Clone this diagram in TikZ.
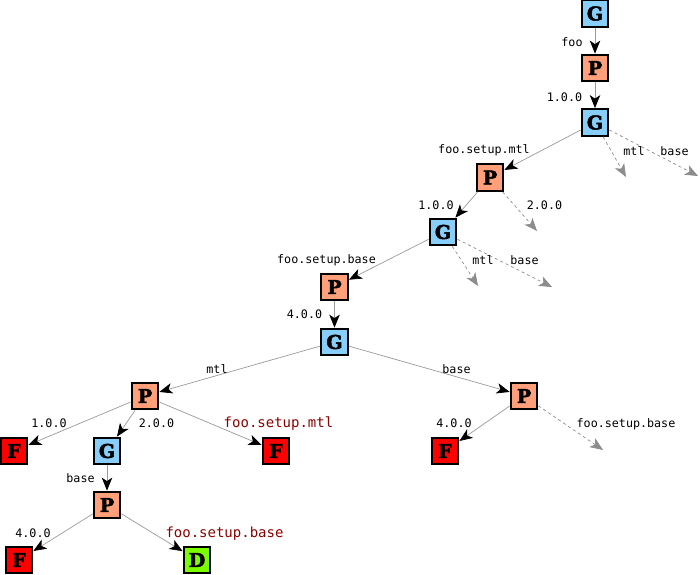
\documentclass[tikz,border=0pt]{standalone}
\usepackage{fontspec}
\usetikzlibrary{arrows.meta}
\newfontfamily\nodefam{DejaVu Serif}[BoldFeatures={FakeBold=2.5}]
\newfontfamily\monofam{DejaVu Sans Mono}
\definecolor{gblue}{HTML}{87CEFA}
\definecolor{psalmon}{HTML}{FFA07A}
\definecolor{fred}{HTML}{FF0000}
\definecolor{dgreen}{HTML}{7CFC00}
\definecolor{darkred}{HTML}{8B0000}
\definecolor{edgegray}{HTML}{999999}
\definecolor{dashgray}{HTML}{8C8C8C}
\tikzset{
  nd/.style={draw=black, line width=2.3pt, minimum size=26.5pt, inner sep=0pt,
    font=\nodefam\bfseries\fontsize{19}{19}\selectfont},
  gn/.style={nd, fill=gblue},
  pn/.style={nd, fill=psalmon},
  fn/.style={nd, fill=fred},
  dn/.style={nd, fill=dgreen},
  edge/.style={draw=edgegray, line width=0.7pt,
    -{Stealth[length=13pt,width=10.5pt,inset=3.5pt,color=black]}},
  dedge/.style={draw=dashgray, dashed, line width=0.7pt,
    -{Stealth[length=13pt,width=10.5pt,inset=3.5pt,color=dashgray]}},
  lbl/.style={font=\monofam\fontsize{11.7}{12}\selectfont, inner sep=0pt, anchor=base},
  rlbl/.style={font=\monofam\fontsize{14}{14}\selectfont, text=darkred, inner sep=0pt, anchor=base}
}
\begin{document}
\begin{tikzpicture}[x=1pt,y=-1pt]
\useasboundingbox (0,0) rectangle (700,574);
% nodes
\node[gn] (G1) at (595,13.5) {G};
\node[pn] (P1) at (595,68) {P};
\node[gn] (G2) at (595,122.5) {G};
\node[pn] (P2) at (490,177.5) {P};
\node[gn] (G3) at (443,232) {G};
\node[pn] (P3) at (334.5,287) {P};
\node[gn] (G4) at (334.5,342) {G};
\node[pn] (P4) at (145,396) {P};
\node[pn] (P5) at (524,396) {P};
\node[fn] (F1) at (14,451) {F};
\node[gn] (G5) at (107,451) {G};
\node[fn] (F2) at (276,451) {F};
\node[fn] (F3) at (445,451) {F};
\node[pn] (P6) at (107,505) {P};
\node[fn] (F4) at (19,560) {F};
\node[dn] (D) at (197,560) {D};
% free ends
\coordinate (e1) at (626,177);
\coordinate (e2) at (698,176);
\coordinate (e3) at (537,231);
\coordinate (e4) at (478,286);
\coordinate (e5) at (552,287);
\coordinate (e6) at (603,450);
% solid edges
\draw[edge] (G1) -- (P1);
\draw[edge] (P1) -- (G2);
\draw[edge] (G2) -- (P2);
\draw[edge] (P2) -- (G3);
\draw[edge] (G3) -- (P3);
\draw[edge] (P3) -- (G4);
\draw[edge] (G4) -- (P4);
\draw[edge] (G4) -- (P5);
\draw[edge] (P4) -- (F1);
\draw[edge] (P4) -- (G5);
\draw[edge] (P4) -- (F2);
\draw[edge] (G5) -- (P6);
\draw[edge] (P6) -- (F4);
\draw[edge] (P6) -- (D);
\draw[edge] (P5) -- (F3);
% dashed edges
\draw[dedge] (G2) -- (e1);
\draw[dedge] (G2) -- (e2);
\draw[dedge] (P2) -- (e3);
\draw[dedge] (G3) -- (e4);
\draw[dedge] (G3) -- (e5);
\draw[dedge] (P5) -- (e6);
% labels
\node[lbl] (l1) at (572,46) {foo};
\node[lbl] (l2) at (564.5,101) {1.0.0};
\node[lbl] (l3) at (484,153) {foo.setup.mtl};
\node[lbl] (l4) at (634,155) {mtl};
\node[lbl] (l5) at (674.5,155) {base};
\node[lbl] (l6) at (436,209) {1.0.0};
\node[lbl] (l7) at (544.5,209) {2.0.0};
\node[lbl] (l8) at (326.5,263) {foo.setup.base};
\node[lbl] (l9) at (483,264) {mtl};
\node[lbl] (l10) at (524.5,264) {base};
\node[lbl] (l11) at (304.5,318) {4.0.0};
\node[lbl] (l12) at (217,373) {mtl};
\node[lbl] (l13) at (456.5,373) {base};
\node[lbl] (l14) at (49,427) {1.0.0};
\node[lbl] (l15) at (156.5,427) {2.0.0};
\node[rlbl] (l16) at (278.5,427) {foo.setup.mtl};
\node[lbl] (l17) at (454,427) {4.0.0};
\node[lbl] (l18) at (626,427) {foo.setup.base};
\node[lbl] (l19) at (80.5,482) {base};
\node[lbl] (l20) at (33,537) {4.0.0};
\node[rlbl] (l21) at (224.5,537) {foo.setup.base};
\end{tikzpicture}
\end{document}
